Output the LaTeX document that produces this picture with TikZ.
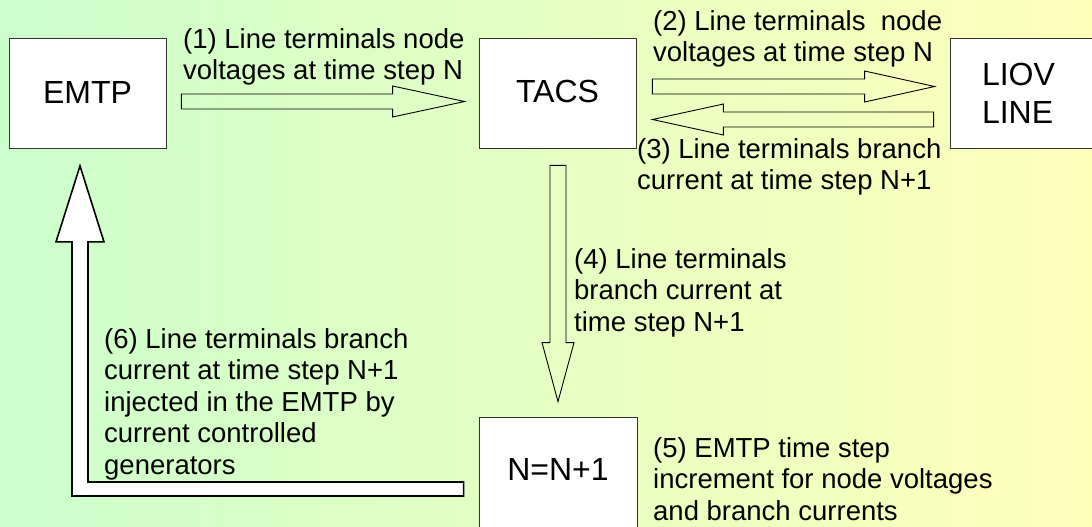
\documentclass[tikz,border=0pt]{standalone}
\usepackage{fontspec}
\setmainfont{Liberation Sans}
\usetikzlibrary{calc,positioning}
\definecolor{bgleft}{RGB}{204,255,204}
\definecolor{bgright}{RGB}{255,255,186}
\tikzset{barrow/.style n args={3}{draw=black,line width=0.9pt,to path={
  ($(\tikztotarget)!#3!(\tikztostart)$) coordinate (bb)
  ($(\tikztostart)!#1!90:(\tikztotarget)$) -- ($(bb)!#1!-90:(\tikztostart)$)
  -- ($(bb)!#2!-90:(\tikztostart)$) -- (\tikztotarget)
  -- ($(bb)!#2!90:(\tikztostart)$) -- ($(bb)!#1!90:(\tikztostart)$)
  -- ($(\tikztostart)!#1!-90:(\tikztotarget)$) -- cycle}}}

\begin{document}
\begin{tikzpicture}[x=1pt,y=-1pt]
\tikzstyle{block}=[rectangle,draw=black!80,fill=white,line width=0.8pt,inner sep=0pt,minimum height=110pt,font=\fontsize{32}{38}\selectfont,align=center]
\tikzstyle{note}=[inner sep=0pt,anchor=north west,align=left,font=\fontsize{27.5}{31.5}\selectfont]

\shade[left color=bgleft,right color=bgright] (0,0) rectangle (1092,527);
\useasboundingbox (0,0) rectangle (1092,527);

\node[block,minimum width=157pt] (emtp) at (87.5,93.5) {\raisebox{3pt}{EMTP}};
\node[block,minimum width=157pt] (tacs) at (557.5,93) {\raisebox{3pt}{TACS}};
\node[block,minimum width=150pt,text width=86pt,inner xsep=32pt,align=left] (liov) at (1025,93) {LIOV\\LINE};
\node[block,minimum width=158pt] (nn) at (558,472) {\raisebox{5pt}{N=N+1}};

\draw[barrow={7.5pt}{15.5pt}{72pt}] ([shift={(15,8)}]emtp.east) to ([shift={(-14,8.5)}]tacs.west);
\draw[barrow={7.5pt}{15.5pt}{70pt}] ([shift={(16,-6.5)}]tacs.east) to ([shift={(-15,-6.5)}]liov.west);
\draw[barrow={7.5pt}{15.5pt}{71pt}] ([shift={(-16,26.5)}]liov.west) to ([shift={(16,26.5)}]tacs.east);
\draw[barrow={8pt}{16pt}{59pt}] ([shift={(0.5,17)}]tacs.south) to ([shift={(0,-15)}]nn.north);

\coordinate (r6) at ([shift={(-15,17)}]nn.west);
\coordinate (t6) at ([shift={(-7.5,17)}]emtp.south);
\draw[fill=white,line width=1.6pt] let \p1=(r6), \p2=(t6) in
  (\x1,\y1+7pt) -- (\x2+8pt,\y1+7pt) -- (\x2+8pt,\y2-76pt) -- (\x2+24pt,\y2-76pt) -- (\p2)
  -- (\x2-24pt,\y2-76pt) -- (\x2-8pt,\y2-76pt) -- (\x2-8pt,\y1-7pt) -- (\x1,\y1-7pt) -- cycle;

\node[note] (l1) at (183,28) {(1) Line terminals node\\voltages at time step N};
\node[note] (l2) at (653,10) {(2) Line terminals\ \ node\\voltages at time step N};
\node[note] (l3) at (637,138) {(3) Line terminals branch\\current at time step N+1};
\node[note] (l4) at (574,248) {(4) Line terminals\\branch current at\\time step N+1};
\node[note] (l5) at (653,437) {(5) EMTP time step\\increment for node voltages\\and branch currents};
\node[note] (l6) at (104,328) {(6) Line terminals branch\\current at time step N+1\\injected in the EMTP by\\current controlled\\generators};
\end{tikzpicture}
\end{document}
